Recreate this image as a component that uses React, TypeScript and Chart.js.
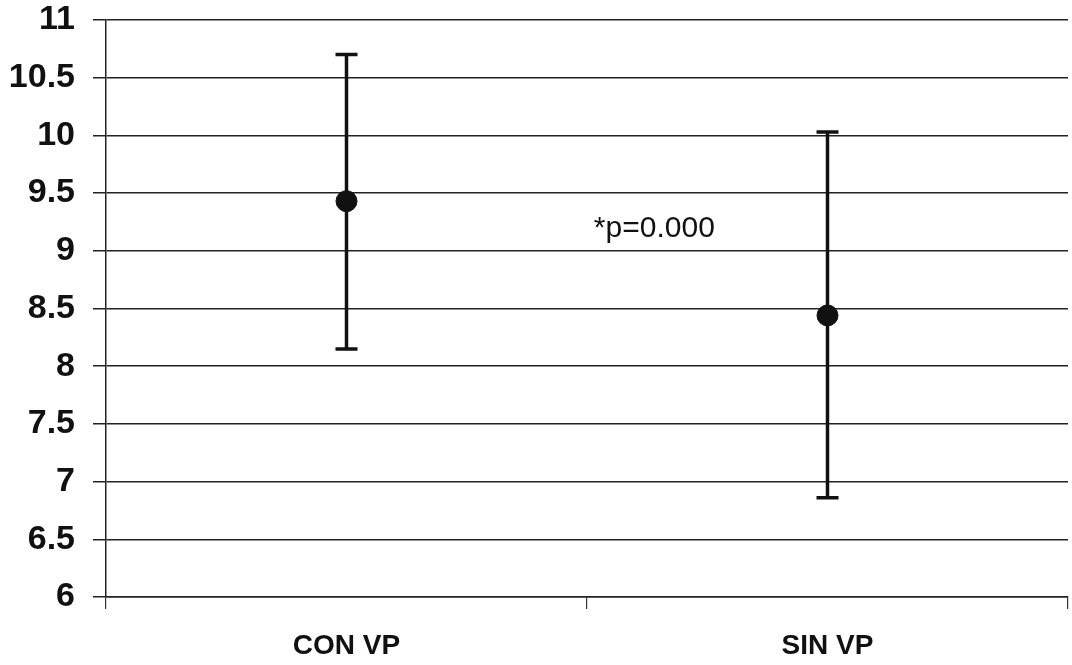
import React, { useEffect, useRef } from "react";
import { Chart, registerables } from "chart.js";

Chart.register(...registerables);

const categories = ["CON VP", "SIN VP"];
const means = [9.43, 8.44];
const upperValues = [10.7, 10.03];
const lowerValues = [8.15, 6.86];
const yTicks = [6, 6.5, 7, 7.5, 8, 8.5, 9, 9.5, 10, 10.5, 11];
const annotationText = "*p=0.000";
const annotationX = 0.64;
const annotationY = 9.19;

const FONT = "'Liberation Sans', Arial, Helvetica, sans-serif";

const errorBarPlugin = {
  id: "errorBars",
  beforeDatasetsDraw(chart: any) {
    const { ctx } = chart;
    const xs = chart.scales.x;
    const ys = chart.scales.y;
    ctx.save();
    ctx.strokeStyle = "#111";
    ctx.lineWidth = 3.5;
    categories.forEach((_c, i) => {
      const x = xs.getPixelForValue(i);
      const yt = ys.getPixelForValue(upperValues[i]);
      const yb = ys.getPixelForValue(lowerValues[i]);
      ctx.beginPath();
      ctx.moveTo(x, yt);
      ctx.lineTo(x, yb);
      ctx.moveTo(x - 11, yt);
      ctx.lineTo(x + 11, yt);
      ctx.moveTo(x - 11, yb);
      ctx.lineTo(x + 11, yb);
      ctx.stroke();
    });
    ctx.restore();
  },
  afterDatasetsDraw(chart: any) {
    const { ctx } = chart;
    const xs = chart.scales.x;
    const ys = chart.scales.y;
    ctx.save();
    ctx.fillStyle = "#111";
    ctx.font = `30px ${FONT}`;
    ctx.textAlign = "center";
    ctx.textBaseline = "middle";
    ctx.fillText(annotationText, xs.getPixelForValue(annotationX), ys.getPixelForValue(annotationY));
    ctx.restore();
  },
};

export default function App() {
  const ref = useRef<HTMLCanvasElement>(null);
  useEffect(() => {
    document.body.style.margin = "0";
    const chart = new Chart(ref.current!, {
      type: "line",
      data: {
        labels: categories,
        datasets: [
          {
            data: means,
            showLine: false,
            pointRadius: 10.5,
            pointHoverRadius: 10.5,
            pointBackgroundColor: "#111",
            pointBorderColor: "#111",
            borderColor: "#111",
          },
        ],
      },
      options: {
        animation: false,
        responsive: false,
        layout: { autoPadding: false, padding: { top: 20, right: 4, left: 0, bottom: 0 } },
        plugins: { legend: { display: false }, tooltip: { enabled: false } },
        scales: {
          x: {
            type: "category",
            offset: true,
            afterFit(scale: any) {
              scale.height = 68;
              scale.paddingLeft = 0;
              scale.paddingRight = 0;
            },
            grid: {
              offset: true,
              drawOnChartArea: false,
              drawTicks: true,
              tickLength: 12,
              color: "#333",
              lineWidth: 1.2,
            },
            border: { display: true, color: "#222", width: 1.5 },
            ticks: {
              color: "#111",
              padding: 20,
              font: { family: FONT, size: 28, weight: "bold" },
            },
          },
          y: {
            min: 6,
            max: 11,
            afterFit(scale: any) {
              scale.width = 106;
              scale.paddingTop = 0;
              scale.paddingBottom = 0;
            },
            afterBuildTicks(scale: any) {
              scale.ticks = yTicks.map((v) => ({ value: v }));
            },
            grid: {
              color: "#222",
              lineWidth: 1.5,
              tickLength: 13,
            },
            border: { display: true, color: "#222", width: 1.5 },
            ticks: {
              color: "#111",
              padding: 18,
              font: { family: FONT, size: 34, weight: "bold" },
              callback: (v: any) => String(v),
            },
          },
        },
      },
      plugins: [errorBarPlugin],
    });
    return () => chart.destroy();
  }, []);
  return <canvas ref={ref} width={1072} height={665} style={{ display: "block" }} />;
}
